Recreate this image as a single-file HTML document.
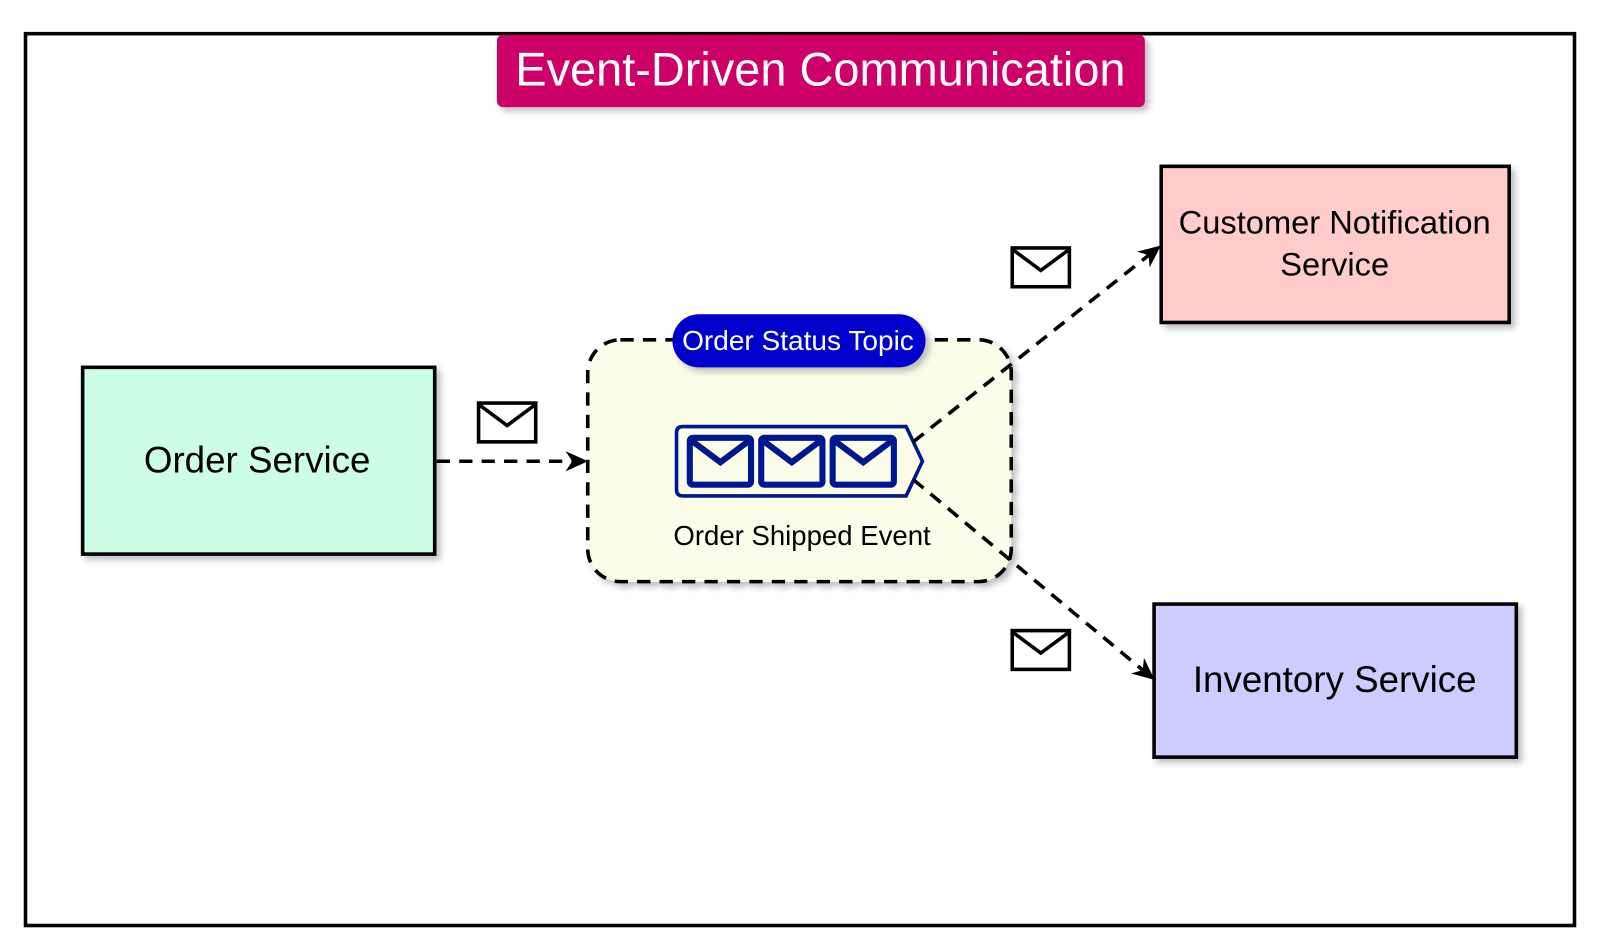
<!DOCTYPE html>
<html><head><style>html,body{margin:0;padding:0;background:#fff}svg{display:block}</style></head>
<body>
<svg width="1600" height="950" viewBox="0 0 1568 931" preserveAspectRatio="none" xmlns="http://www.w3.org/2000/svg" font-family="Liberation Sans, Arial, sans-serif">
<defs>
<filter id="sh" x="-10%" y="-10%" width="130%" height="130%"><feDropShadow dx="4" dy="4" stdDeviation="3" flood-color="#000" flood-opacity="0.25"/></filter>
<marker id="ar" viewBox="0 0 10 10" refX="9" refY="5" markerWidth="22" markerHeight="22" markerUnits="userSpaceOnUse" orient="auto"><path d="M0,0.5 L10,5 L0,9.5 L3,5 Z" fill="#000"/></marker>
<g id="env"><rect x="0" y="0" width="56" height="38" fill="#fff" stroke="#000" stroke-width="3.5"/><path d="M1,2 L28,22 L55,2" fill="none" stroke="#000" stroke-width="3.5"/></g>
<g id="benv"><rect x="0" y="0" width="60" height="46" rx="3" fill="none" stroke="#00188f" stroke-width="6"/><path d="M2,3 L30,24 L58,3" fill="none" stroke="#00188f" stroke-width="6"/></g>
</defs>
<rect x="25" y="33" width="1518" height="874" fill="#fff" stroke="#000" stroke-width="3.5"/>
<rect x="487" y="34" width="635" height="71" rx="6" fill="#cc0066" filter="url(#sh)"/>
<text x="804" y="84" text-anchor="middle" font-size="46" fill="#fff">Event-Driven Communication</text>

<rect x="81" y="360" width="345" height="183" fill="#ccffe6" stroke="#000" stroke-width="3.5" filter="url(#sh)"/>
<text x="252" y="463" text-anchor="middle" font-size="36">Order Service</text>

<rect x="576" y="333" width="415" height="237" rx="32" fill="#fbfde9" stroke="#000" stroke-width="3.5" stroke-dasharray="13,9" filter="url(#sh)"/>
<rect x="659" y="308" width="248" height="52" rx="26" fill="#0000cc" filter="url(#sh)"/>
<text x="782" y="343" text-anchor="middle" font-size="27.5" fill="#fff">Order Status Topic</text>
<path d="M669,418 L888,418 L904,452 L888,486 L669,486 Q663,486 663,480 L663,424 Q663,418 669,418 Z" fill="none" stroke="#00188f" stroke-width="3.5"/>
<use href="#benv" x="676" y="429"/>
<use href="#benv" x="746" y="429"/>
<use href="#benv" x="816" y="429"/>
<text x="786" y="534" text-anchor="middle" font-size="27">Order Shipped Event</text>

<rect x="1138" y="163" width="341" height="153" fill="#ffcccc" stroke="#000" stroke-width="3.5" filter="url(#sh)"/>
<text x="1308" y="229" text-anchor="middle" font-size="32">Customer Notification</text>
<text x="1308" y="270" text-anchor="middle" font-size="32">Service</text>

<rect x="1131" y="592" width="355" height="150" fill="#ccccff" stroke="#000" stroke-width="3.5" filter="url(#sh)"/>
<text x="1308" y="678" text-anchor="middle" font-size="36">Inventory Service</text>

<g stroke="#000" stroke-width="3.5" stroke-dasharray="13,9" fill="none">
<line x1="428" y1="452" x2="574" y2="452" marker-end="url(#ar)"/>
<line x1="895" y1="433" x2="1136" y2="242" marker-end="url(#ar)"/>
<line x1="895" y1="470" x2="1130" y2="665" marker-end="url(#ar)"/>
</g>
<use href="#env" x="469" y="395"/>
<use href="#env" x="992" y="243"/>
<use href="#env" x="992" y="618"/>
</svg>
</body></html>
